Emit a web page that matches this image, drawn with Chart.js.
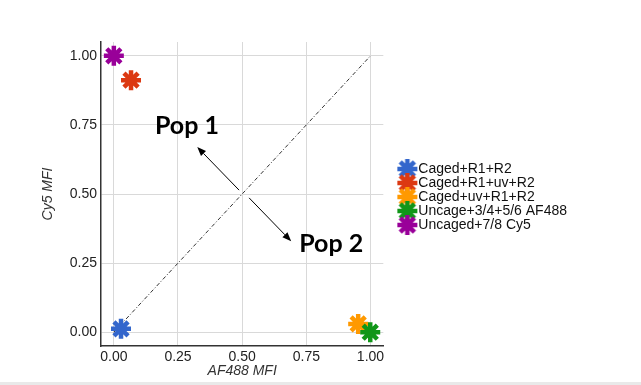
<!DOCTYPE html>
<html>
<head>
<meta charset="utf-8">
<script src="https://cdn.jsdelivr.net/npm/chart.js@4.4.1/dist/chart.umd.min.js"></script>
<style>
    html, body { margin: 0; padding: 0; background: #fff; }
    #wrap { position: relative; width: 641px; height: 382px; }
    #bar { width: 641px; height: 3px; background: #e9e9e9; }
</style>
</head>
<body>
<div id="wrap"><canvas id="chart"></canvas></div>
<div id="bar"></div>
<script>
// Series (AF488 MFI on x, Cy5 MFI on y)
const seriesNames = ['Caged+R1+R2', 'Caged+R1+uv+R2', 'Caged+uv+R1+R2', 'Uncage+3/4+5/6 AF488', 'Uncaged+7/8 Cy5'];
const af488Values = [0.028, 0.067, 0.952, 0.999, 0.0];
const cy5Values = [0.012, 0.912, 0.03, 0.0, 1.0];
const seriesColors = ['#3366CC', '#DC3912', '#FF9900', '#109618', '#990099'];

// Axis ticks
const tickValues = [0, 0.25, 0.5, 0.75, 1];

// Reference diagonal
const diagonalX = [0, 1];
const diagonalY = [0, 1];

// Annotations
const popLabels = ['Pop 1', 'Pop 2'];
const popLabelX = [0.16, 0.722];
const popLabelY = [0.717, 0.29];
const arrowFromX = [0.488, 0.527];
const arrowFromY = [0.514, 0.486];
const arrowToX = [0.325, 0.691];
const arrowToY = [0.67, 0.329];

const FONT = "'Liberation Sans', Arial, sans-serif";
const STAR_RADIUS = 10;
const STAR_WIDTH = 4.5;

// legend marker: star drawn at full size on a small canvas
function makeStar(color) {
    const c = document.createElement('canvas');
    c.width = 24;
    c.height = 24;
    const g = c.getContext('2d');
    g.strokeStyle = color;
    g.fillStyle = color;
    g.lineWidth = STAR_WIDTH;
    Chart.helpers.drawPoint(g, { pointStyle: 'star', radius: STAR_RADIUS, rotation: 0, borderWidth: STAR_WIDTH }, 12, 12);
    return c;
}
const legendStars = seriesColors.map(makeStar);

const datasets = seriesNames.map((name, i) => ({
    label: name,
    data: [{ x: af488Values[i], y: cy5Values[i] }],
    pointStyle: 'star',
    pointRadius: STAR_RADIUS,
    pointBorderWidth: STAR_WIDTH,
    borderWidth: STAR_WIDTH,
    borderColor: seriesColors[i],
    backgroundColor: seriesColors[i],
    pointBorderColor: seriesColors[i],
    pointBackgroundColor: seriesColors[i],
    order: i === 3 ? 0 : 1
}));

datasets.push({
    label: 'diagonal',
    type: 'line',
    data: diagonalX.map((x, i) => ({ x: x, y: diagonalY[i] })),
    borderColor: '#333',
    borderWidth: 1,
    borderDash: [4, 2, 1, 2],
    pointRadius: 0,
    fill: false,
    order: 10
});

const annotationPlugin = {
    id: 'popAnnotations',
    afterLayout(chart) {
        // legend markers overhang the legend box on the left, so skip its clipping
        const lg = chart.legend;
        if (lg && !lg._noClip) {
            lg._noClip = true;
            lg.draw = function () {
                if (this.options.display) {
                    this._draw();
                }
            };
        }
    },
    afterDatasetsDraw(chart) {
        const { ctx, scales: { x, y } } = chart;
        ctx.save();
        ctx.strokeStyle = '#000';
        ctx.fillStyle = '#000';
        ctx.lineWidth = 1;
        arrowFromX.forEach((fx, i) => {
            const x0 = x.getPixelForValue(fx);
            const y0 = y.getPixelForValue(arrowFromY[i]);
            const x1 = x.getPixelForValue(arrowToX[i]);
            const y1 = y.getPixelForValue(arrowToY[i]);
            const ang = Math.atan2(y1 - y0, x1 - x0);
            const len = 9, half = 3.5;
            const bx = x1 - Math.cos(ang) * len;
            const by = y1 - Math.sin(ang) * len;
            ctx.beginPath();
            ctx.moveTo(x0, y0);
            ctx.lineTo(bx, by);
            ctx.stroke();
            ctx.beginPath();
            ctx.moveTo(x1, y1);
            ctx.lineTo(bx - Math.sin(ang) * half, by + Math.cos(ang) * half);
            ctx.lineTo(bx + Math.sin(ang) * half, by - Math.cos(ang) * half);
            ctx.closePath();
            ctx.fill();
        });
        ctx.font = "bold 25px Lato, 'Open Sans', sans-serif";
        ctx.textBaseline = 'alphabetic';
        ctx.textAlign = 'left';
        popLabels.forEach((t, i) => {
            ctx.fillText(t, x.getPixelForValue(popLabelX[i]), y.getPixelForValue(popLabelY[i]));
        });
        ctx.restore();
    }
};

const axisCommon = {
    type: 'linear',
    min: -0.05,
    max: 1.05,
    afterBuildTicks: s => { s.ticks = tickValues.map(v => ({ value: v })); },
    grid: { color: '#d9d9d9', lineWidth: 1, drawTicks: false },
    border: { color: '#333', width: 1.5 }
};

new Chart(document.getElementById('chart'), {
    type: 'scatter',
    data: { datasets: datasets },
    options: {
        responsive: true,
        maintainAspectRatio: false,
        animation: false,
        layout: { padding: { top: 42, right: 64, bottom: 0, left: 0 } },
        plugins: {
            tooltip: { enabled: false },
            legend: {
                position: 'right',
                align: 'center',
                fullSize: false,
                maxWidth: 220,
                title: { display: true, text: ' ', padding: 0, font: { size: 5 } },
                labels: {
                    usePointStyle: true,
                    boxWidth: 8,
                    padding: 0,
                    color: '#111',
                    font: { family: FONT, size: 14 },
                    generateLabels: chart => Chart.defaults.plugins.legend.labels.generateLabels(chart)
                        .filter(item => item.text !== 'diagonal')
                        .map(item => Object.assign(item, { pointStyle: legendStars[item.datasetIndex] })),
                    sort: (a, b) => a.datasetIndex - b.datasetIndex
                }
            }
        },
        scales: {
            x: Object.assign({}, axisCommon, {
                position: 'bottom',
                afterFit: s => { s.height = 36; },
                ticks: {
                    callback: v => v.toFixed(2),
                    color: '#222',
                    padding: 3,
                    maxRotation: 0,
                    font: { family: FONT, size: 14 }
                },
                title: {
                    display: true,
                    text: 'AF488 MFI',
                    color: '#333',
                    padding: { top: 0, bottom: 2 },
                    font: { family: FONT, size: 14, style: 'italic' }
                }
            }),
            y: Object.assign({}, axisCommon, {
                position: 'left',
                afterFit: s => { s.width = 101; },
                ticks: {
                    callback: v => v.toFixed(2),
                    color: '#222',
                    padding: 4,
                    font: { family: FONT, size: 14 }
                },
                title: {
                    display: true,
                    text: 'Cy5 MFI',
                    color: '#333',
                    padding: { top: 40, bottom: 0 },
                    font: { family: FONT, size: 14, style: 'italic' }
                }
            }),
            spacer: {
                type: 'linear',
                position: 'right',
                display: true,
                grid: { display: false, drawTicks: false },
                border: { display: false },
                ticks: { display: false },
                afterFit: s => { s.width = 20; }
            }
        }
    },
    plugins: [annotationPlugin]
});
</script>
</body>
</html>
